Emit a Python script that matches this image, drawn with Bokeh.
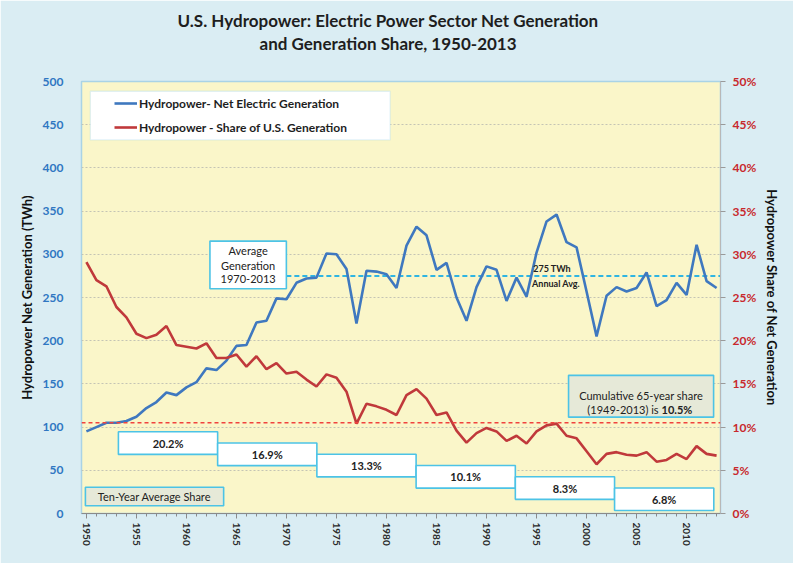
import math
from bokeh.plotting import figure
from bokeh.models import (Range1d, LinearAxis, PrintfTickFormatter, Legend, LegendItem,
                          BoxAnnotation, Span, FixedTicker, Title)
from bokeh.core.properties import value
from bokeh.embed import file_html
from bokeh.resources import INLINE

# ---------------- data ----------------
years = list(range(1950, 2014))
generation_twh = [95, 100, 105, 105, 107, 112, 122, 129, 140, 137,
                  146, 152, 168, 166, 177, 194, 195, 221, 223, 249,
                  248, 267, 272, 273, 301, 300, 283, 220, 281, 280,
                  277, 261, 310, 332, 322, 282, 290, 250, 223, 262,
                  286, 282, 246, 273, 251, 302, 338, 346, 314, 308,
                  257, 205, 252, 262, 257, 261, 279, 240, 247, 267,
                  253, 311, 269, 261]
share_pct = [29.1, 27.0, 26.3, 23.9, 22.7, 20.8, 20.3, 20.7, 21.7, 19.5,
             19.3, 19.1, 19.7, 18.0, 18.0, 18.4, 17.0, 18.2, 16.7, 17.4,
             16.2, 16.4, 15.5, 14.7, 16.1, 15.7, 14.1, 10.4, 12.7, 12.4,
             12.0, 11.4, 13.7, 14.4, 13.3, 11.4, 11.7, 9.6, 8.2, 9.3,
             9.9, 9.5, 8.4, 9.0, 8.1, 9.5, 10.2, 10.4, 9.0, 8.7,
             7.2, 5.7, 6.9, 7.1, 6.8, 6.7, 7.1, 6.0, 6.2, 6.9,
             6.3, 7.8, 6.9, 6.7]
decade_avg_share = [20.2, 16.9, 13.3, 10.1, 8.3, 6.8]
decade_labels = ["20.2%", "16.9%", "13.3%", "10.1%", "8.3%", "6.8%"]
avg_generation_twh = 275
cumulative_share_pct = 10.5
left_ticks = list(range(0, 501, 50))
right_ticks = list(range(0, 51, 5))
year_ticks = list(range(1950, 2011, 5))

# ---------------- styles ----------------
FONT = "Lato"
BLUE = "#3f78bf"
RED = "#c0393b"
CYAN = "#4cc3e6"
OUTER = "#daedf3"
PLOTBG = "#faf6c9"

p = figure(width=793, height=563,
           x_range=Range1d(1949.51, 2013.39), y_range=Range1d(0, 500),
           output_backend="svg", toolbar_location=None,
           min_border_left=81, min_border_right=73, min_border_top=81, min_border_bottom=50)

spacer = Title(text=" ", text_font_size="2px", standoff=24)
t2 = Title(text="and Generation Share, 1950-2013", align="left", offset=178,
           text_font=FONT, text_font_size="17px", text_font_style="bold",
           text_color="#1e1e1e", standoff=0)
t1 = Title(text="U.S. Hydropower: Electric Power Sector Net Generation", align="left", offset=96,
           text_font=FONT, text_font_size="17px", text_font_style="bold",
           text_color="#1e1e1e", standoff=0)
p.add_layout(spacer, "above")
p.add_layout(t2, "above")
p.add_layout(t1, "above")

p.background_fill_color = PLOTBG
p.border_fill_color = OUTER
p.outline_line_color = "#a9d3e6"
p.outline_line_width = 1.5

p.extra_y_ranges = {"share": Range1d(0, 50)}

# left axis
ya = p.yaxis[0]
ya.ticker = FixedTicker(ticks=left_ticks)
ya.axis_label = "Hydropower Net Generation (TWh)"
ya.axis_label_text_font = FONT
ya.axis_label_text_font_size = "13px"
ya.axis_label_text_font_style = "bold"
ya.axis_label_text_color = "#111111"
ya.major_label_text_font = FONT
ya.major_label_text_font_size = "12px"
ya.major_label_text_font_style = "bold"
ya.major_label_text_color = "#2f77c2"
ya.major_tick_line_color = None
ya.minor_tick_line_color = None
ya.axis_line_color = None
ya.major_label_standoff = 12

# right axis
ra = LinearAxis(y_range_name="share", ticker=FixedTicker(ticks=right_ticks),
                formatter=PrintfTickFormatter(format="%d%%"))
ra.axis_label = "Hydropower Share of Net Generation"
ra.axis_label_text_font = FONT
ra.axis_label_text_font_size = "13px"
ra.axis_label_text_font_style = "bold"
ra.axis_label_text_color = "#111111"
ra.major_label_text_font = FONT
ra.major_label_text_font_size = "12px"
ra.major_label_text_font_style = "bold"
ra.major_label_text_color = "#c8282d"
ra.major_tick_in = 0
ra.major_tick_out = 5
ra.major_tick_line_color = "#9a9a9a"
ra.minor_tick_line_color = None
ra.axis_line_color = "#b8b8b8"
ra.major_label_standoff = 7
p.add_layout(ra, "right")

# x axis
xa = p.xaxis[0]
xa.ticker = FixedTicker(ticks=year_ticks, minor_ticks=years)
xa.major_label_orientation = -math.pi / 2
xa.major_label_text_font = FONT
xa.major_label_text_font_size = "10px"
xa.major_label_text_font_style = "bold"
xa.major_label_text_color = "#2a2a2a"
xa.major_tick_in = 0
xa.major_tick_out = 5
xa.minor_tick_in = 0
xa.minor_tick_out = 3
xa.major_tick_line_color = "#8a8a8a"
xa.minor_tick_line_color = "#8a8a8a"
xa.axis_line_color = "#8a8a8a"
xa.major_label_standoff = 4

p.xgrid.visible = False
p.ygrid.ticker = FixedTicker(ticks=left_ticks)
p.ygrid.grid_line_color = "#c4c4b4"
p.ygrid.grid_line_dash = "2 2"
p.ygrid.grid_line_width = 1

# reference lines
p.add_layout(Span(location=cumulative_share_pct, dimension="width", y_range_name="share",
                  line_color="#f0433e", line_dash="4 3", line_width=1.6))
p.line([1969.99, 2013.39], [avg_generation_twh, avg_generation_twh],
       line_color="#2fb5e2", line_dash="5 3", line_width=2)

# series
r_gen = p.line(years, generation_twh, line_color=BLUE, line_width=2.6)
r_share = p.line(years, share_pct, line_color=RED, line_width=2.6, y_range_name="share")

# ten-year average boxes
n = len(decade_avg_share)
box_left = [1953.2 + 9.92 * i for i in range(n)]
box_right = [b + 9.92 for b in box_left]
box_top = [9.46 - 1.3 * i for i in range(n)]
box_bottom = [t - 2.62 for t in box_top]
p.quad(left=box_left, right=box_right, top=box_top, bottom=box_bottom,
       fill_color="white", line_color=CYAN, line_width=1.6, y_range_name="share")
p.text(x=[(l + r) / 2 for l, r in zip(box_left, box_right)],
       y=[(t + b) / 2 for t, b in zip(box_top, box_bottom)],
       text=decade_labels, y_range_name="share",
       text_font=value(FONT), text_font_size="11px", text_font_style="bold",
       text_color="#222222", text_align="center", text_baseline="middle")

# "Ten-Year Average Share" tag
p.quad(left=[1949.9], right=[1963.72], top=[3.04], bottom=[0.9],
       fill_color="#e6e9d8", line_color=CYAN, line_width=1.6, y_range_name="share")
p.text(x=[1956.8], y=[1.95], text=["Ten-Year Average Share"], y_range_name="share",
       text_font=value(FONT), text_font_size="11px", text_color="#222222",
       text_align="center", text_baseline="middle")

# cumulative share box
p.quad(left=[1998.2], right=[2012.7], top=[15.99], bottom=[11.15],
       fill_color="#e6e9d8", line_color=CYAN, line_width=1.6, y_range_name="share")
p.text(x=[2005.45], y=[13.65], text=["Cumulative 65-year share"], y_range_name="share",
       text_font=value(FONT), text_font_size="11px", text_color="#222222",
       text_align="center", text_baseline="middle")
p.text(x=[2007.3], y=[12.05], text=["(1949-2013) is"], y_range_name="share",
       text_font=value(FONT), text_font_size="11px", text_color="#222222",
       text_align="right", text_baseline="middle", x_offset=-1)
p.text(x=[2007.3], y=[12.05], text=["%.1f%%" % cumulative_share_pct], y_range_name="share",
       text_font=value(FONT), text_font_size="11px", text_font_style="bold",
       text_color="#222222", text_align="left", text_baseline="middle", x_offset=2)

# average generation box
p.quad(left=[1962.35], right=[1969.99], top=[315.3], bottom=[260.1],
       fill_color="white", line_color=CYAN, line_width=1.6)
p.text(x=[1966.17] * 3, y=[304.4, 287.5, 271.4],
       text=["Average", "Generation", "1970-2013"],
       text_font=value(FONT), text_font_size="11px", text_color="#222222",
       text_align="center", text_baseline="middle")

# 275 TWh annual avg text
p.text(x=[1996.55], y=[283.8], text=["%d TWh" % avg_generation_twh],
       text_font=value(FONT), text_font_size="9px", text_font_style="bold",
       text_color="#222222", text_align="center", text_baseline="middle")
p.text(x=[1996.95], y=[265.8], text=["Annual Avg."],
       text_font=value(FONT), text_font_size="9px", text_font_style="bold",
       text_color="#222222", text_align="center", text_baseline="middle")

# legend
p.add_layout(BoxAnnotation(left=1950.39, right=1980.37, top=488.7, bottom=432.4,
                           fill_color="white", fill_alpha=1.0,
                           line_color="#9fd3ea", line_width=1.3))
legend = Legend(items=[LegendItem(label="Hydropower- Net Electric Generation", renderers=[r_gen]),
                       LegendItem(label="Hydropower - Share of U.S. Generation", renderers=[r_share])],
                location=(33, 376), margin=0, padding=0, spacing=4,
                glyph_width=23, glyph_height=20, label_height=20, label_standoff=2,
                border_line_alpha=0, background_fill_alpha=0,
                label_text_font=FONT, label_text_font_size="12px",
                label_text_font_style="bold", label_text_color="#1e1e1e")
p.add_layout(legend)

open("out.html", "w").write(file_html(p, INLINE))
